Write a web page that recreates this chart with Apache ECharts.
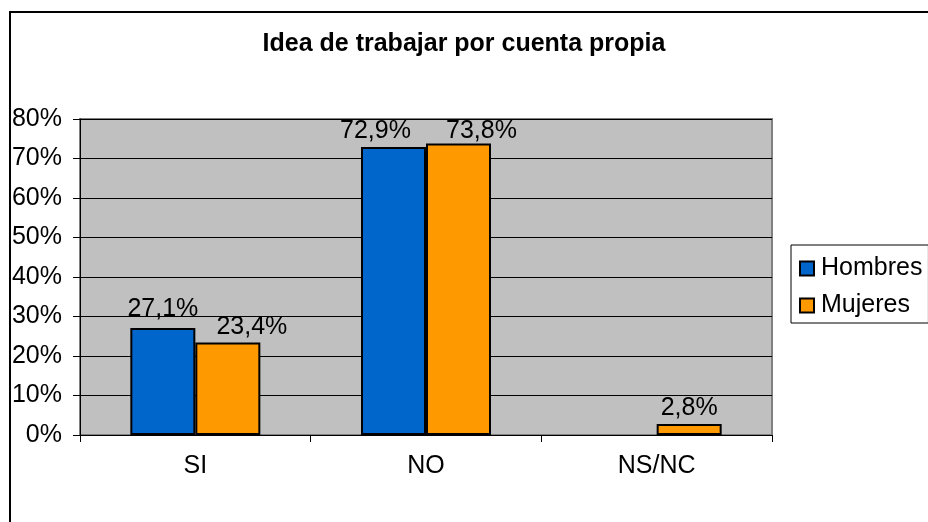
<!DOCTYPE html>
<html>
<head>
<meta charset="utf-8">
<script src="https://cdn.jsdelivr.net/npm/echarts@6/dist/echarts.min.js"></script>
<style>
  html, body { margin: 0; padding: 0; background: #fff; }
  #chart { width: 928px; height: 522px; }
</style>
</head>
<body>
<div id="chart"></div>
<script>
var categories = ["SI", "NO", "NS/NC"];
var hombres = [27.1, 72.9, null];
var mujeres = [23.4, 73.8, 2.8];
var yTicks = [0, 10, 20, 30, 40, 50, 60, 70, 80];

// Excel nudged some labels sideways to keep them apart
var hombresOffset = [[0, -3], [-18, 0], [0, 0]];
var mujeresOffset = [[24, 0], [23, 3], [0, 0]];

var font = "'Liberation Sans', Arial, sans-serif";

function fmt(p) {
    return String(p.value.toFixed(1)).replace(".", ",") + "%";
}

function items(vals, offs) {
    return vals.map(function (v, i) {
        return { value: v, label: { offset: offs[i] } };
    });
}

var c = echarts.init(document.getElementById("chart"));
var m = {
    animation: false,
    backgroundColor: "#fff",
    textStyle: { fontFamily: font, color: "#000" },
    title: {
        text: "Idea de trabajar por cuenta propia",
        left: "center",
        top: 27,
        textStyle: { fontFamily: font, fontSize: 25, fontWeight: "bold", color: "#000" }
    },
    graphic: [{
        type: "rect",
        shape: { x: 10, y: 12, width: 1000, height: 600 },
        style: { fill: null, stroke: "#000", lineWidth: 2 },
        silent: true
    }],
    legend: {
        orient: "vertical",
        left: 791,
        top: 245,
        padding: [11, 6, 5, 8],
        itemGap: 12,
        itemWidth: 14,
        itemHeight: 14,
        borderColor: "#000",
        borderWidth: 1,
        icon: "rect",
        textStyle: { fontFamily: font, fontSize: 25, color: "#000", padding: [0, 0, 0, 2] },
        data: ["Hombres", "Mujeres"]
    },
    grid: {
        left: 80,
        top: 119,
        right: 156,
        bottom: 87,
        show: true,
        backgroundColor: "#c0c0c0",
        borderColor: "#808080",
        borderWidth: 2
    },
    xAxis: {
        type: "category",
        data: categories,
        axisLine: { lineStyle: { color: "#000", width: 1 } },
        axisTick: { show: true, length: 7, lineStyle: { color: "#000" } },
        axisLabel: { fontFamily: font, fontSize: 25, color: "#000", margin: 19 }
    },
    yAxis: {
        type: "value",
        min: yTicks[0],
        max: yTicks[yTicks.length - 1],
        interval: 10,
        axisLine: { show: true, lineStyle: { color: "#000", width: 1 } },
        axisTick: { show: true, length: 7, lineStyle: { color: "#000" } },
        axisLabel: { fontFamily: font, fontSize: 25, color: "#000", margin: 18, formatter: "{value}%" },
        splitLine: { show: true, lineStyle: { color: "#000", width: 1 } }
    },
    series: [{
            name: "Hombres",
            type: "bar",
            barWidth: 65,
            barGap: "0%",
            data: items(hombres, hombresOffset),
            itemStyle: { color: "#0066cc", borderColor: "#000", borderWidth: 2 },
            label: {
                show: true,
                position: "top",
                distance: 3,
                fontFamily: font,
                fontSize: 25,
                color: "#000",
                formatter: fmt
            }
        },
        {
            name: "Mujeres",
            type: "bar",
            barWidth: 65,
            barGap: "0%",
            data: items(mujeres, mujeresOffset),
            itemStyle: { color: "#ff9900", borderColor: "#000", borderWidth: 2 },
            label: {
                show: true,
                position: "top",
                distance: 3,
                fontFamily: font,
                fontSize: 25,
                color: "#000",
                formatter: fmt
            }
        }
    ]
};
c.setOption(m);
</script>
</body>
</html>
